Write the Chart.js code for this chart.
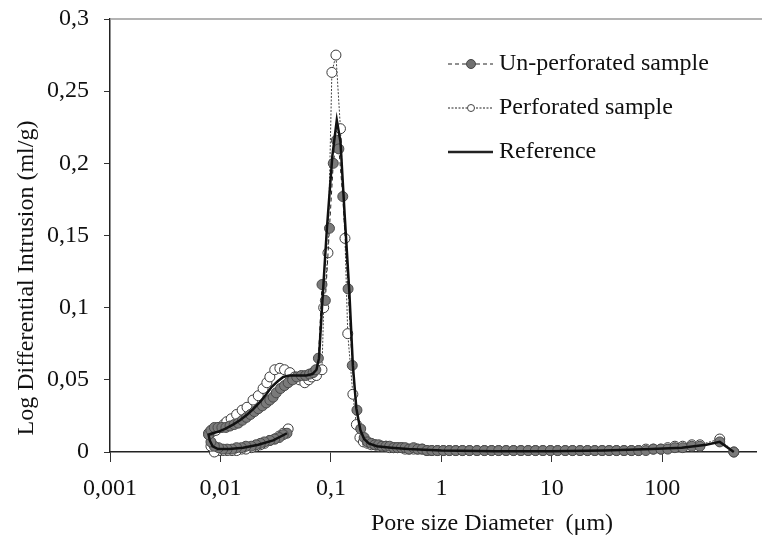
<!DOCTYPE html>
<html>
<head>
<meta charset="utf-8">
<title>Pore size distribution</title>
<script src="https://cdn.jsdelivr.net/npm/chart.js@4/dist/chart.umd.min.js"></script>
<style>
  body { margin: 0; background: #ffffff; }
  #poreChart { display: block; }
</style>
</head>
<body>
<canvas id="poreChart" width="762" height="540"></canvas>
<script>
// Pore size distribution (mercury intrusion), three samples
// ---------------------------------------------------------

// tick values / labels
const xTickValues = [0.001, 0.01, 0.1, 1, 10, 100];
const xTickLabels = ['0,001', '0,01', '0,1', '1', '10', '100'];
const yTickValues = [0, 0.05, 0.1, 0.15, 0.2, 0.25, 0.3];
const yTickLabels = ['0', '0,05', '0,1', '0,15', '0,2', '0,25', '0,3'];

// Un-perforated sample: low branch, then bump and main peak
const unperfHeadX = [0.040, 0.037, 0.034, 0.031, 0.028, 0.025, 0.023, 0.021, 0.019, 0.017,
    0.0155, 0.014, 0.0127, 0.0115, 0.0105, 0.0096, 0.0088, 0.0082,
    0.0078, 0.0082, 0.0088, 0.0095, 0.0103, 0.0112, 0.0122, 0.0133, 0.0145, 0.0158,
    0.0172, 0.0187, 0.0203, 0.022, 0.024, 0.026, 0.028, 0.030, 0.032, 0.035,
    0.038, 0.041, 0.045, 0.049, 0.054, 0.059, 0.064, 0.069, 0.073, 0.077,
    0.083, 0.089, 0.097, 0.105, 0.112, 0.118, 0.128, 0.143, 0.156, 0.172, 0.186, 0.200];
const unperfHeadY = [0.013, 0.012, 0.010, 0.009, 0.008, 0.007, 0.006, 0.005, 0.004, 0.004,
    0.003, 0.003, 0.002, 0.002, 0.002, 0.003, 0.004, 0.007,
    0.012, 0.015, 0.017, 0.017, 0.017, 0.017, 0.018, 0.019, 0.020, 0.022,
    0.024, 0.026, 0.028, 0.030, 0.032, 0.034, 0.036, 0.038, 0.041, 0.044,
    0.046, 0.048, 0.050, 0.052, 0.053, 0.053, 0.054, 0.055, 0.057, 0.065,
    0.116, 0.105, 0.155, 0.200, 0.216, 0.210, 0.177, 0.113, 0.060, 0.029, 0.016, 0.010];

// Perforated sample
const perfHeadX = [0.041, 0.037, 0.034, 0.031, 0.028, 0.025, 0.023, 0.021, 0.019, 0.017,
    0.0155, 0.014, 0.0127, 0.0115, 0.0105, 0.0096, 0.0088, 0.0082,
    0.0078, 0.0084, 0.0091, 0.0099, 0.0107, 0.0114, 0.0125, 0.014, 0.0157, 0.0174,
    0.0197, 0.022, 0.0243, 0.0263, 0.028, 0.031, 0.0345, 0.038, 0.0425, 0.047,
    0.052, 0.058, 0.063, 0.067, 0.074, 0.083,
    0.086, 0.094, 0.102, 0.111, 0.122, 0.134, 0.142, 0.158, 0.170, 0.183, 0.197];
const perfHeadY = [0.016, 0.013, 0.011, 0.009, 0.008, 0.006, 0.005, 0.004, 0.003, 0.002,
    0.002, 0.001, 0.001, 0.001, 0.001, 0.001, 0.000, 0.004,
    0.013, 0.014, 0.015, 0.017, 0.019, 0.021, 0.023, 0.026, 0.029, 0.031,
    0.036, 0.039, 0.044, 0.048, 0.052, 0.057, 0.058, 0.057, 0.055, 0.052,
    0.050, 0.048, 0.050, 0.052, 0.053, 0.057,
    0.100, 0.138, 0.263, 0.275, 0.224, 0.148, 0.082, 0.040, 0.019, 0.010, 0.007];

// shared tail (large pores) for both samples
const tailX = [0.215, 0.232, 0.25, 0.27, 0.29, 0.315, 0.34, 0.37, 0.40, 0.435,
    0.47, 0.51, 0.56, 0.61, 0.67, 0.74, 0.82, 0.92, 1.04, 1.18,
    1.35, 1.55, 1.8, 2.1, 2.45, 2.85, 3.3, 3.85, 4.5, 5.25,
    6.1, 7.1, 8.3, 9.7, 11.3, 13.2, 15.4, 18, 21, 24.5,
    28.5, 33, 38.5, 45, 52.5, 61, 71, 83, 97, 112,
    130, 153, 185, 219, 331, 444];
const unperfTailY = [0.007, 0.006, 0.005, 0.005, 0.004, 0.004, 0.004, 0.003, 0.003, 0.003,
    0.003, 0.002, 0.003, 0.002, 0.002, 0.001, 0.001, 0.001, 0.001, 0.001,
    0.001, 0.001, 0.001, 0.001, 0.001, 0.001, 0.001, 0.001, 0.001, 0.001,
    0.001, 0.001, 0.001, 0.001, 0.001, 0.001, 0.001, 0.001, 0.001, 0.001,
    0.001, 0.001, 0.001, 0.001, 0.001, 0.001, 0.001, 0.002, 0.002, 0.002,
    0.003, 0.003, 0.004, 0.004, 0.007, 0.000];
const perfTailY = [0.006, 0.005, 0.005, 0.004, 0.004, 0.004, 0.003, 0.003, 0.003, 0.003,
    0.002, 0.002, 0.002, 0.002, 0.002, 0.001, 0.001, 0.001, 0.001, 0.001,
    0.001, 0.001, 0.001, 0.001, 0.001, 0.001, 0.001, 0.001, 0.001, 0.001,
    0.001, 0.001, 0.001, 0.001, 0.001, 0.001, 0.001, 0.001, 0.001, 0.001,
    0.001, 0.001, 0.001, 0.001, 0.001, 0.001, 0.002, 0.002, 0.002, 0.003,
    0.004, 0.004, 0.005, 0.005, 0.009, 0.000];

// Reference sample (line only)
const refX = [0.040, 0.030, 0.022, 0.016, 0.012, 0.0095, 0.0085, 0.0080,
    0.0078, 0.0085, 0.0095, 0.011, 0.013, 0.015, 0.0175, 0.020, 0.023, 0.026,
    0.029, 0.033, 0.037, 0.042, 0.050, 0.060, 0.068, 0.074, 0.078,
    0.083, 0.092, 0.103, 0.113, 0.122, 0.133, 0.147, 0.158, 0.170, 0.185, 0.200,
    0.22, 0.26, 0.35, 0.5, 1, 3, 10, 30, 80, 150, 250, 331, 444];
const refY = [0.013, 0.008, 0.005, 0.003, 0.002, 0.002, 0.004, 0.008,
    0.012, 0.013, 0.014, 0.016, 0.019, 0.022, 0.026, 0.030, 0.035, 0.040,
    0.045, 0.049, 0.052, 0.053, 0.053, 0.053, 0.054, 0.057, 0.065,
    0.100, 0.155, 0.205, 0.230, 0.215, 0.165, 0.110, 0.060, 0.030, 0.015, 0.009,
    0.006, 0.004, 0.003, 0.002, 0.001, 0.0005, 0.0005, 0.001, 0.002, 0.003, 0.005, 0.007, 0.000];

const FONT = '"Liberation Serif", "Times New Roman", serif';

function toPoints(xs, ys) {
    return xs.map((x, i) => ({ x: x, y: ys[i] }));
}

// ============================================
// legend, axis titles and top frame line
// ============================================
const decorPlugin = {
    id: 'decor',
    beforeDatasetsDraw(chart) {
        const ctx = chart.ctx;
        const a = chart.chartArea;
        ctx.save();
        ctx.strokeStyle = '#9a9a9a';
        ctx.lineWidth = 1.5;
        ctx.beginPath();
        ctx.moveTo(a.left, a.top);
        ctx.lineTo(chart.width, a.top);
        ctx.stroke();
        ctx.restore();
    },
    afterDraw(chart) {
        const ctx = chart.ctx;
        ctx.save();
        ctx.fillStyle = '#111';
        ctx.font = '24px ' + FONT;
        ctx.textAlign = 'center';
        ctx.textBaseline = 'middle';
        ctx.fillText('Pore size Diameter  (\u03bcm)', 492, 524);

        ctx.save();
        ctx.translate(27, 278);
        ctx.rotate(-Math.PI / 2);
        ctx.fillText('Log Differential Intrusion (ml/g)', 0, 0);
        ctx.restore();

        // legend rows
        const rows = [
            { text: 'Un-perforated sample', y: 64, dash: [4, 3], width: 1, marker: 'filled' },
            { text: 'Perforated sample', y: 108, dash: [2, 1.5], width: 1, marker: 'open' },
            { text: 'Reference', y: 152, dash: [], width: 2.5, marker: null }
        ];
        rows.forEach(r => {
            ctx.strokeStyle = '#222';
            ctx.lineWidth = r.width;
            ctx.setLineDash(r.dash);
            ctx.beginPath();
            ctx.moveTo(448, r.y);
            ctx.lineTo(493, r.y);
            ctx.stroke();
            ctx.setLineDash([]);
            if (r.marker) {
                ctx.beginPath();
                ctx.arc(471, r.y, r.marker === 'filled' ? 4.5 : 3.5, 0, Math.PI * 2);
                ctx.fillStyle = r.marker === 'filled' ? '#707070' : '#ffffff';
                ctx.fill();
                ctx.lineWidth = 1;
                ctx.strokeStyle = '#444';
                ctx.stroke();
            }
            ctx.fillStyle = '#111';
            ctx.textAlign = 'left';
            ctx.fillText(r.text, 499, r.y);
        });
        ctx.restore();
    }
};

// ============================================
// CHART
// ============================================
function initPoreChart() {
    const ctx = document.getElementById('poreChart').getContext('2d');
    new Chart(ctx, {
        type: 'line',
        data: {
            datasets: [{
                label: 'Reference',
                data: toPoints(refX, refY),
                borderColor: '#111',
                borderWidth: 2.5,
                pointRadius: 0,
                tension: 0,
                clip: false
            }, {
                label: 'Un-perforated sample',
                data: toPoints(unperfHeadX.concat(tailX), unperfHeadY.concat(unperfTailY)),
                borderColor: '#222',
                borderWidth: 1,
                borderDash: [4, 3],
                pointRadius: 5,
                pointBackgroundColor: '#7a7a7a',
                pointBorderColor: '#4a4a4a',
                pointBorderWidth: 1,
                tension: 0,
                clip: false
            }, {
                label: 'Perforated sample',
                data: toPoints(perfHeadX.concat(tailX), perfHeadY.concat(perfTailY)),
                borderColor: '#444',
                borderWidth: 1,
                borderDash: [2, 1.5],
                pointRadius: 5,
                pointBackgroundColor: '#ffffff',
                pointBorderColor: '#3a3a3a',
                pointBorderWidth: 1,
                tension: 0,
                clip: false
            }]
        },
        options: {
            responsive: false,
            animation: false,
            devicePixelRatio: 1,
            layout: { padding: { top: 19, right: 4, left: 0, bottom: 0 } },
            plugins: {
                legend: { display: false },
                tooltip: { enabled: false }
            },
            scales: {
                x: {
                    type: 'logarithmic',
                    min: 0.001,
                    max: 705,
                    afterBuildTicks: function(scale) {
                        scale.ticks = xTickValues.map(v => ({ value: v, major: true }));
                    },
                    afterFit: function(scale) {
                        scale.height = 88;
                        scale.paddingLeft = 0;
                        scale.paddingRight = 0;
                    },
                    ticks: {
                        autoSkip: false,
                        maxRotation: 0,
                        padding: 12,
                        color: '#111',
                        font: { family: FONT, size: 24 },
                        callback: function(value, index) { return xTickLabels[index]; }
                    },
                    grid: { drawOnChartArea: false, tickLength: 10, color: '#333', lineWidth: 1 },
                    border: { display: true, color: '#222', width: 1.5 }
                },
                y: {
                    type: 'linear',
                    min: 0,
                    max: 0.3,
                    afterBuildTicks: function(scale) {
                        scale.ticks = yTickValues.map(v => ({ value: v }));
                    },
                    afterFit: function(scale) {
                        scale.width = 110;
                        scale.paddingTop = 0;
                        scale.paddingBottom = 0;
                    },
                    ticks: {
                        padding: 15,
                        color: '#111',
                        font: { family: FONT, size: 24 },
                        callback: function(value, index) { return yTickLabels[index]; }
                    },
                    grid: { drawOnChartArea: false, tickLength: 6, color: '#333', lineWidth: 1 },
                    border: { display: true, color: '#222', width: 1.5 }
                }
            }
        },
        plugins: [decorPlugin]
    });
}

initPoreChart();
</script>
</body>
</html>
